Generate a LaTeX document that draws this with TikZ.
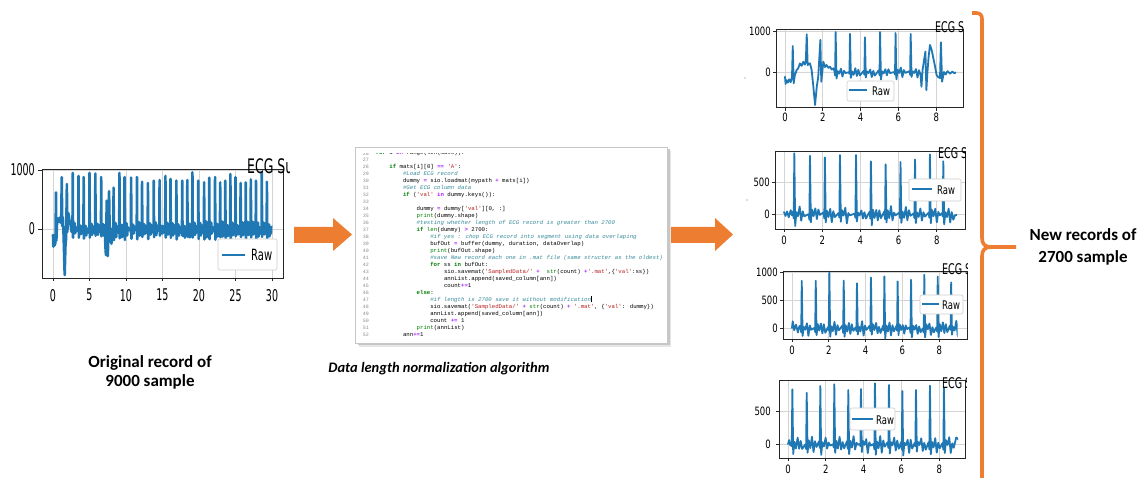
\documentclass[tikz,border=0pt]{standalone}
\usepackage{fontspec}
\usepackage{graphicx}
\setmainfont{Carlito}
\newfontfamily\plotfont{DejaVu Sans}
\newfontfamily\codefont{Liberation Mono}
\definecolor{mplblue}{HTML}{1F77B4}
\definecolor{accent}{HTML}{ED7D31}
\definecolor{kwgreen}{HTML}{008000}
\definecolor{cmteal}{HTML}{3A8C9C}
\definecolor{strred}{HTML}{BA2121}
\definecolor{oppurple}{HTML}{AA22FF}

% vertically stretched text (matplotlib export)
\newcommand\vstretch[2]{\scalebox{1}[#1]{#2}}
\newcommand\leftfont{\plotfont\fontsize{9.5}{10}\selectfont}
\newcommand\rightfont{\plotfont\fontsize{8.5}{9}\selectfont}

% syntax colouring for the code listing
\newcommand\cK[1]{\textcolor{kwgreen}{\bfseries #1}}
\newcommand\cB[1]{\textcolor{kwgreen}{#1}}
\newcommand\cC[1]{\textcolor{cmteal}{\itshape #1}}
\newcommand\cS[1]{\textcolor{strred}{#1}}
\newcommand\cO[1]{\textcolor{oppurple}{\bfseries #1}}

% axes: #1 name prefix, #2 tmin, #3 tmax, #4 vmin, #5 vmax, #6 x ticks, #7 y ticks
\newcommand\plotframe[7]{%
  \foreach \xt in {#6} \draw[gridline] (\xt,#4) -- (\xt,#5);
  \foreach \yt in {#7} \draw[gridline] (#2,\yt) -- (#3,\yt);
  \draw[spine] (#2,#4) rectangle (#3,#5);
  \foreach \xt in {#6} {%
    \draw[spine] (\xt,#4) -- ++(0pt,-3.5pt);
    \node[xlab] (#1x\xt) at (\xt,#4) {\tickfmt{\xt}};
  }
  \foreach \yt in {#7} {%
    \draw[spine] (#2,\yt) -- ++(-3.5pt,0pt);
    \node[ylab] (#1y\yt) at (#2,\yt) {\tickfmt{\yt}};
  }
}

% one heartbeat: QRS spike of height \ab at time \tb, then baseline ripple
\newcommand\beat{-- (\tb-0.07,{15+30*rand}) -- (\tb-0.03,{-60+30*rand}) -- (\tb,\ab)
  -- (\tb+0.045,{-150+40*rand}) -- (\tb+0.11,{40+30*rand}) -- (\tb+0.19,{-40+30*rand})
  -- (\tb+0.28,{90+40*rand}) -- (\tb+0.36,{-110+40*rand}) -- (\tb+0.44,{40+30*rand})
  -- (\tb+0.52,{-50+40*rand})}

\begin{document}
\begin{tikzpicture}[x=1pt,y=-1pt,
  spine/.style={draw=black!85, line width=0.8pt},
  gridline/.style={draw=black!17, line width=0.8pt},
  sig/.style={draw=mplblue, line join=round, line cap=round},
  xlab/.style={anchor=north, inner sep=0pt},
  ylab/.style={anchor=east, inner sep=0pt},
  legbox/.style={draw=black!20, fill=white, rounded corners=2pt, line width=0.6pt},
  brace/.style={draw=accent, line width=3.6pt, line join=round},
  codeln/.style={anchor=base west, inner sep=0pt, font=\codefont\fontsize{5.7}{6}\selectfont},
  lineno/.style={anchor=base east, inner sep=0pt, text=black!45, font=\codefont\fontsize{5}{6}\selectfont},
  caption/.style={align=center, inner sep=0pt}
]
\pgfmathsetseed{12}
\useasboundingbox (0,0) rectangle (1141,478);
\fill[white] (0,0) rectangle (1141,478);

% ---------------- original 30 s record ----------------
\begin{scope}[shift={(53,229)}, x=7.3pt, y=0.059pt,
  xlab/.append style={yshift=-11pt, font=\leftfont},
  ylab/.append style={xshift=-7pt, font=\leftfont}]
  \def\tickfmt#1{\vstretch{1.7}{#1}}
  \plotframe{L}{-1.507}{31.5}{-830}{1017}{0,5,...,30}{0,1000}
  \begin{scope}
    \clip (-0.5,-1000) rectangle (30.05,1100);
    \draw[sig, line width=2.6pt] (0,-100) -- (0.05,-300) -- (0.12,-150) -- (0.2,-280)
      -- (0.3,-250) -- (0.36,-50) -- (0.41,620) -- (0.46,-200) -- (0.55,100) -- (0.7,180)
      -- (0.85,120) -- (1.0,200) -- (1.12,100) -- (1.2,880) -- (1.26,50) -- (1.35,200)
      -- (1.45,-100) -- (1.6,-780) -- (1.7,-300) -- (1.8,-150) -- (1.9,760) -- (1.96,-50)
      -- (2.1,270) -- (2.25,150) -- (2.4,80) -- (2.55,-50)
      \foreach \tb/\ab in {2.7/950, 3.5/900, 4.2/880, 5.0/950, 5.8/940, 6.6/880}{\beat}
      -- (7.18,-300) -- (7.25,-440) -- (7.3,-200) -- (7.35,480) -- (7.42,-350) -- (7.5,-460)
      -- (7.6,-100) -- (7.68,640) -- (7.75,100) -- (7.85,-50) -- (8.0,-250) -- (8.1,-100)
      -- (8.18,-60)
      \foreach \tb/\ab in {8.3/700, 9.1/950, 9.8/880, 10.7/870, 11.5/880, 12.2/800,
        13.0/780, 13.8/820, 14.6/830, 15.4/900, 16.1/850, 16.9/820, 17.7/820, 18.4/830,
        19.1/960, 19.9/820, 20.7/790, 21.4/870, 22.2/880, 22.9/790, 23.6/820, 24.3/930,
        25.0/880, 25.7/780, 26.4/790, 27.1/840, 27.8/820, 28.6/960, 29.3/800}{\beat}
      -- (30,40);
  \end{scope}
\end{scope}
\begin{scope}
  \clip (240,150) rectangle (289,185);
  \node[anchor=base west, inner sep=0pt, font=\plotfont\fontsize{12.5}{13}\selectfont]
    (Ltitle) at (247,173.8) {\vstretch{1.6}{ECG Subject}};
\end{scope}
\draw[legbox] (218,239) rectangle (277,270);
\draw[mplblue, line width=2.6pt] (222,255) -- (245,255);
\node[anchor=west, inner sep=0pt, font=\plotfont\fontsize{10}{11}\selectfont]
  (Lleg) at (251,255) {\vstretch{1.55}{Raw}};

\node[caption, font=\fontsize{17}{19}\selectfont\bfseries] (orig) at (150,372)
  {Original record of\\9000 sample};

% ---------------- block arrows ----------------
\fill[accent] (294,227) -- (333,227) -- (333,218) -- (352,234.5) -- (333,251)
  -- (333,243) -- (294,243) -- cycle;
\fill[accent] (669,227) -- (715,227) -- (715,218) -- (733,234.5) -- (715,251)
  -- (715,243) -- (669,243) -- cycle;

% ---------------- code listing ----------------
\fill[black!10] (359,151) rectangle (671,347.5);
\fill[black!22] (357.5,149.5) rectangle (669.5,345.5);
\node[draw=black!22, fill=white, minimum width=312, minimum height=196, inner sep=0pt,
  anchor=north west, line width=0.6pt] (panel) at (355,147) {};
\begin{scope}
  \clip (356,153.6) rectangle (666,342);
  \foreach \n in {26,...,52}
    \node[lineno] (ln\n) at (369,{162+(\n-27)*6.97}) {\n};
  \node[codeln] (c26) at (375.5,155.0) {\cK{for} i \cO{in} range(len(mats)):};
  \node[codeln] (c28) at (389.2,169.0) {\cK{if} mats[i][0] \cO{==} \cS{'A'}:};
  \node[codeln] (c29) at (402.8,175.9) {\cC{\#Load ECG record}};
  \node[codeln] (c30) at (402.8,182.9) {dummy \cO{=} sio.loadmat(mypath \cO{+} mats[i])};
  \node[codeln] (c31) at (402.8,189.9) {\cC{\#Get ECG column data}};
  \node[codeln] (c32) at (402.8,196.8) {\cK{if} (\cS{'val'} \cO{in} dummy.keys()):};
  \node[codeln] (c34) at (416.5,210.8) {dummy \cO{=} dummy[\cS{'val'}][0, :]};
  \node[codeln] (c35) at (416.5,217.7) {\cB{print}(dummy.shape)};
  \node[codeln] (c36) at (416.5,224.7) {\cC{\#testing whether length of ECG record is greater than 2700}};
  \node[codeln] (c37) at (416.5,231.7) {\cK{if} \cB{len}(dummy) \cO{>} 2700:};
  \node[codeln] (c38) at (430.1,238.6) {\cC{\#if yes : chop ECG record into segment using data overlaping}};
  \node[codeln] (c39) at (430.1,245.6) {bufOut \cO{=} buffer(dummy, duration, dataOverlap)};
  \node[codeln] (c40) at (430.1,252.6) {\cB{print}(bufOut.shape)};
  \node[codeln] (c41) at (430.1,259.5) {\cC{\#save New record each one in .mat file (same structer as the oldest)}};
  \node[codeln] (c42) at (430.1,266.5) {\cK{for} ss \cK{in} bufOut:};
  \node[codeln] (c43) at (443.8,273.5) {sio.savemat(\cS{'SampledData/'} \cO{+}\ \ \cB{str}(count) \cO{+}\cS{'.mat'},\{\cS{'val'}:ss\})};
  \node[codeln] (c44) at (443.8,280.4) {annList.append(saved\_column[ann])};
  \node[codeln] (c45) at (443.8,287.4) {count\cO{+=}1};
  \node[codeln] (c46) at (416.5,294.4) {\cK{else}:};
  \node[codeln] (c47) at (430.1,301.3) {\cC{\#if length is 2700 save it without modification}\rule[-1pt]{0.5pt}{6pt}};
  \node[codeln] (c48) at (430.1,308.3) {sio.savemat(\cS{'SampledData/'} \cO{+} \cB{str}(count) \cO{+} \cS{'.mat'}, \{\cS{'val'}: dummy\})};
  \node[codeln] (c49) at (430.1,315.3) {annList.append(saved\_column[ann])};
  \node[codeln] (c50) at (430.1,322.2) {count \cO{+=} 1};
  \node[codeln] (c51) at (416.5,329.2) {\cB{print}(annList)};
  \node[codeln] (c52) at (402.8,336.2) {ann\cO{+=}1};
\end{scope}
\node[font=\fontsize{14.5}{17}\selectfont\bfseries\itshape, inner sep=0pt] (algo)
  at (439,369) {Data length normalization algorithm};

% ---------------- new 9 s records ----------------
% record 1
\begin{scope}[shift={(785,72)}, x=18.9pt, y=0.041pt,
  xlab/.append style={yshift=-6pt, font=\rightfont},
  ylab/.append style={xshift=-5pt, font=\rightfont}]
  \def\tickfmt#1{\vstretch{1.35}{#1}}
  \plotframe{A}{-0.476}{9.418}{-854}{1049}{0,2,...,8}{0,1000}
  \begin{scope}
    \clip (-0.3,-1000) rectangle (9.05,1100);
    \draw[sig, line width=1.8pt] (0,-114) -- (0.03,-290) -- (0.09,-200) -- (0.15,-260)
      -- (0.22,-180) -- (0.3,-250) -- (0.37,-120) -- (0.41,634) -- (0.46,-276) -- (0.52,-80)
      -- (0.62,50) -- (0.7,90) -- (0.79,210) -- (0.88,150) -- (0.97,250) -- (1.05,180)
      -- (1.1,260) -- (1.15,920) -- (1.2,170) -- (1.32,211) -- (1.41,50) -- (1.5,-360)
      -- (1.59,-805) -- (1.68,-360) -- (1.76,-114) -- (1.87,780) -- (1.92,-236) -- (2.03,250)
      -- (2.12,120) -- (2.2,170) -- (2.3,100) -- (2.38,130) -- (2.47,60) -- (2.56,90)
      \foreach \tb/\ab in {2.68/975, 3.44/930, 4.23/845, 5.03/975, 5.85/950, 6.65/930}{\beat}
      -- (7.22,-360) -- (7.28,50) -- (7.36,300) -- (7.43,500) -- (7.48,-440) -- (7.53,-50)
      -- (7.6,374) -- (7.67,660) -- (7.76,537) -- (7.85,333) -- (7.94,130) -- (8.02,-73)
      -- (8.1,-120) -- (8.2,-150) -- (8.25,724) -- (8.31,-236) -- (8.41,0) -- (8.5,-60)
      -- (8.6,20) -- (8.73,-40) -- (8.85,10) -- (8.95,-30) -- (9.05,-10);
  \end{scope}
\end{scope}
\begin{scope}
  \clip (930,10) rectangle (963.5,40);
  \node[anchor=base west, inner sep=0pt, font=\plotfont\fontsize{9.5}{10}\selectfont]
    (Atitle) at (935,32.9) {\vstretch{1.55}{ECG Signal}};
\end{scope}
\draw[legbox] (847,81) rectangle (894,101);
\draw[mplblue, line width=2.2pt] (849,90) -- (867,90);
\node[anchor=west, inner sep=0pt, font=\rightfont] (Aleg) at (872,91) {\vstretch{1.4}{Raw}};

% record 2
\begin{scope}[shift={(784,214)}, x=19.1pt, y=0.064pt,
  xlab/.append style={yshift=-7pt, font=\rightfont},
  ylab/.append style={xshift=-5pt, font=\rightfont}]
  \def\tickfmt#1{\vstretch{1.35}{#1}}
  \plotframe{B}{-0.471}{9.476}{-234}{984}{0,2,...,8}{0,500}
  \begin{scope}
    \clip (-0.3,-1000) rectangle (9.05,1100);
    \draw[sig, line width=1.8pt] (0,30) -- (0.08,-30) -- (0.16,40) -- (0.25,-50)
      -- (0.35,60) -- (0.42,-20)
      \foreach \tb/\ab in {0.54/948, 1.36/910, 2.14/885, 2.93/920, 3.77/920, 4.55/823,
        5.32/776, 6.1/812, 6.86/850, 7.64/932, 8.34/823}{\beat}
      -- (8.95,-20) -- (9.3,0);
  \end{scope}
\end{scope}
\begin{scope}
  \clip (930,140) rectangle (965.5,165);
  \node[anchor=base west, inner sep=0pt, font=\plotfont\fontsize{9.5}{10}\selectfont]
    (Btitle) at (938,158.4) {\vstretch{1.55}{ECG Signal}};
\end{scope}
\draw[legbox] (909,179) rectangle (961,201);
\draw[mplblue, line width=2.2pt] (912,189) -- (932,189);
\node[anchor=west, inner sep=0pt, font=\rightfont] (Bleg) at (937,190) {\vstretch{1.4}{Raw}};

% record 3
\begin{scope}[shift={(792,328)}, x=18.4pt, y=0.056pt,
  xlab/.append style={yshift=-7pt, font=\rightfont},
  ylab/.append style={xshift=-5pt, font=\rightfont}]
  \def\tickfmt#1{\vstretch{1.35}{#1}}
  \plotframe{C}{-0.489}{9.511}{-196}{1018}{0,2,...,8}{0,500,1000}
  \begin{scope}
    \clip (-0.3,-1000) rectangle (9.0,1100);
    \draw[sig, line width=1.8pt] (0,0) -- (0.04,120) -- (0.12,-40) -- (0.22,60)
      -- (0.32,-80) -- (0.4,30)
      \foreach \tb/\ab in {0.53/845, 1.29/845, 2.03/988, 2.81/845, 3.53/798, 4.29/900,
        5.02/920, 5.74/830, 6.47/860, 7.19/950, 7.92/920, 8.65/815}{\beat}
      -- (9.3,0);
  \end{scope}
\end{scope}
\begin{scope}
  \clip (930,258) rectangle (967.5,282);
  \node[anchor=base west, inner sep=0pt, font=\plotfont\fontsize{9.5}{10}\selectfont]
    (Ctitle) at (942,274.9) {\vstretch{1.55}{ECG Signal}};
\end{scope}
\draw[legbox] (920,295) rectangle (963,314);
\draw[mplblue, line width=2.2pt] (922,304) -- (939,304);
\node[anchor=west, inner sep=0pt, font=\rightfont] (Cleg) at (942,305) {\vstretch{1.4}{Raw}};

% record 4
\begin{scope}[shift={(788,444)}, x=18.9pt, y=0.065pt,
  xlab/.append style={yshift=-7pt, font=\rightfont},
  ylab/.append style={xshift=-8pt, font=\rightfont}]
  \def\tickfmt#1{\vstretch{1.35}{#1}}
  \plotframe{D}{-0.476}{9.365}{-215}{985}{0,2,...,8}{0,500}
  \begin{scope}
    \clip (-0.3,-1000) rectangle (9.0,1100);
    \draw[sig, line width=1.8pt] (0,0) -- (0.06,60) -- (0.12,-20)
      \foreach \tb/\ab in {0.23/840, 0.99/789, 1.71/892, 2.45/918, 3.19/830, 3.86/845,
        4.6/933, 5.34/908, 6.05/815, 6.77/830, 7.51/898, 8.25/856}{\beat}
      -- (8.9,100) -- (9.3,0);
  \end{scope}
\end{scope}
\begin{scope}
  \clip (930,370) rectangle (966.5,396);
  \node[anchor=base west, inner sep=0pt, font=\plotfont\fontsize{9.5}{10}\selectfont]
    (Dtitle) at (942,388.4) {\vstretch{1.55}{ECG Signal}};
\end{scope}
\draw[legbox] (850,408) rectangle (895,430);
\draw[mplblue, line width=2.2pt] (852,419) -- (873,419);
\node[anchor=west, inner sep=0pt, font=\rightfont] (Dleg) at (876,420) {\vstretch{1.4}{Raw}};

% stray specks at the left of the record panels
\fill[black!55] (745,78) circle (0.7);
\fill[black!55] (747,200) circle (0.7);

% ---------------- brace and caption ----------------
\draw[brace] (972,13) -- (976,13) .. controls (980,13) and (982,15) .. (982,19)
  -- (982,238) .. controls (982,244) and (985,247) .. (991,247) -- (1016,247);
\draw[brace] (991,247) .. controls (985,247) and (982,250) .. (982,256) -- (982,482);
\node[caption, font=\fontsize{17}{21.5}\selectfont\bfseries] (newrec) at (1083,247)
  {New records of\\2700 sample};
\end{tikzpicture}
\end{document}
